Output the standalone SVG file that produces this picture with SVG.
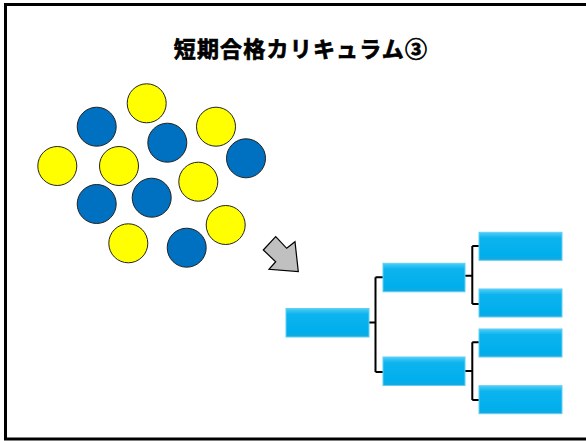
<svg xmlns="http://www.w3.org/2000/svg" width="586" height="441" viewBox="0 0 586 441">
  <defs>
    <style>
      .y { fill: #FFFF00; stroke: #222; stroke-width: 1; }
      .b { fill: #0070C0; stroke: #222; stroke-width: 1; }
      .box { fill: url(#g); stroke: #5fd0f5; stroke-width: 1; }
      .conn { fill: none; stroke: #000; stroke-width: 2; }
      .title { font-family: "Noto Sans CJK JP", "Noto Sans CJK SC", sans-serif; font-weight: bold; font-size: 22px; fill: #000; stroke: #000; stroke-width: 0.7; }
    </style>
    <linearGradient id="g" x1="0" y1="0" x2="0" y2="1">
      <stop offset="0" stop-color="#4fcdf6"/>
      <stop offset="0.2" stop-color="#0cb4ee"/>
      <stop offset="0.85" stop-color="#00aeec"/>
      <stop offset="1" stop-color="#1fa6d8"/>
    </linearGradient>
  </defs>
  <rect x="0" y="0" width="586" height="441" fill="#fff"/>
  <rect x="5.5" y="4.5" width="600" height="434.5" fill="none" stroke="#000" stroke-width="3"/>
  <text class="title" x="301" y="57" text-anchor="middle" letter-spacing="1.2">短期合格カリキュラム③</text>

  <g id="circles">
    <circle class="y" cx="146.7" cy="103.3" r="19.5"/>
    <circle class="b" cx="96.7" cy="126.7" r="19.5"/>
    <circle class="b" cx="167.3" cy="142.7" r="19.5"/>
    <circle class="y" cx="216" cy="126.7" r="19.5"/>
    <circle class="b" cx="246" cy="158.3" r="19.5"/>
    <circle class="y" cx="57.3" cy="166" r="19.5"/>
    <circle class="y" cx="119" cy="166" r="19.5"/>
    <circle class="y" cx="198.3" cy="181.7" r="19.5"/>
    <circle class="b" cx="96.7" cy="204" r="19.5"/>
    <circle class="b" cx="151.7" cy="197.7" r="19.5"/>
    <circle class="y" cx="225.7" cy="225" r="19.5"/>
    <circle class="y" cx="128.3" cy="243.3" r="19.5"/>
    <circle class="b" cx="186.7" cy="247.7" r="19.5"/>
  </g>

  <g id="arrow">
    <polygon points="263.3,250 275.7,236.7 286.7,248.3 295,241.7 298.3,271.7 269,269.3 275.7,261.7" fill="#C0C0C0" stroke="#000" stroke-width="1.2" stroke-linejoin="miter"/>
  </g>

  <g id="connectors">
    <path class="conn" d="M369,322.5 H375.5 M375.5,277.3 V372 M375.5,277.3 H383 M375.5,372 H383"/>
    <path class="conn" d="M465,275.7 H472.3 M472.3,246 V304 M472.3,246 H479 M472.3,304 H479"/>
    <path class="conn" d="M465,371 H472.3 M472.3,342.3 V400 M472.3,342.3 H479 M472.3,400 H479"/>
  </g>

  <g id="root"><rect class="box" x="286" y="308.5" width="83" height="28.5"/></g>
  <g id="mid1"><rect class="box" x="383" y="263.3" width="82" height="28.5"/></g>
  <g id="mid2"><rect class="box" x="383" y="357" width="82" height="28.5"/></g>
  <g id="leaf1"><rect class="box" x="479" y="232.3" width="83" height="28"/></g>
  <g id="leaf2"><rect class="box" x="479" y="289" width="83" height="28"/></g>
  <g id="leaf3"><rect class="box" x="479" y="329" width="83" height="28"/></g>
  <g id="leaf4"><rect class="box" x="479" y="385.7" width="83" height="28"/></g>
</svg>
